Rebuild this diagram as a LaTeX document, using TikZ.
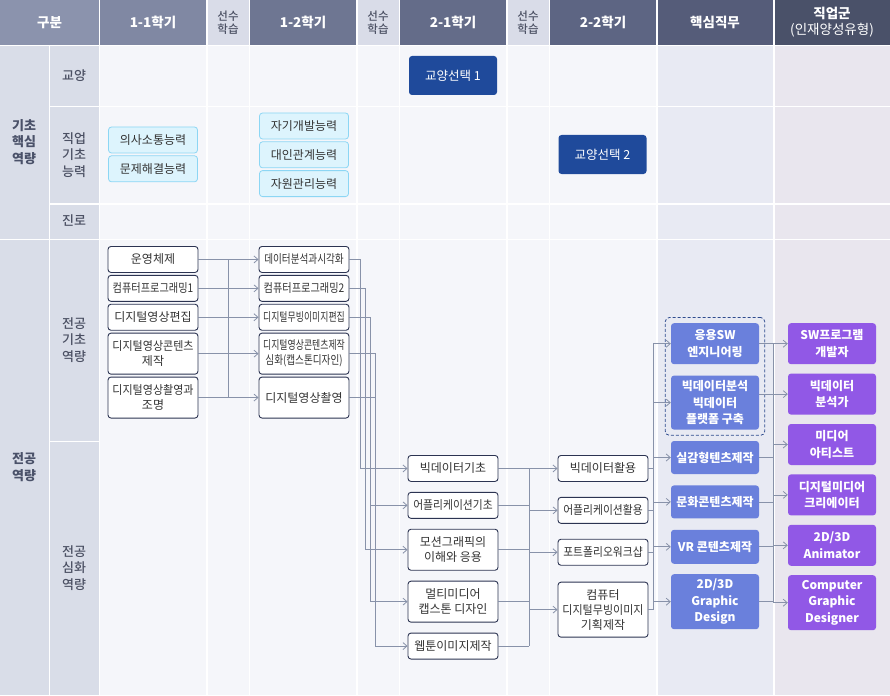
\documentclass[tikz,border=0pt]{standalone}
\usepackage{fontspec}
\setmainfont{Noto Sans CJK KR}
\IfFontExistsTF{Noto Sans CJK KR Medium}
    {\newfontfamily\medfont{Noto Sans CJK KR Medium}}
    {\newcommand\medfont{\relax}}
\usepackage{graphicx}
\usetikzlibrary{positioning,arrows.meta,fit}

\definecolor{hdA}{HTML}{8B93AD}
\definecolor{hdB}{HTML}{8088A3}
\definecolor{hdC}{HTML}{6E7692}
\definecolor{hdD}{HTML}{646C89}
\definecolor{hdE}{HTML}{5D6583}
\definecolor{hdF}{HTML}{555C79}
\definecolor{hdG}{HTML}{4A5169}
\definecolor{prehd}{HTML}{D9DCE8}
\definecolor{sidec}{HTML}{D9DDE8}
\definecolor{cellc}{HTML}{F5F6FA}
\definecolor{jobc}{HTML}{E8EAF3}
\definecolor{carc}{HTML}{E9E6EE}
\definecolor{sidetext}{HTML}{4B5063}
\definecolor{boxline}{HTML}{2C3452}
\definecolor{boxtext}{HTML}{333333}
\definecolor{skillfill}{HTML}{DDF4FD}
\definecolor{skillline}{HTML}{8CD6F4}
\definecolor{electfill}{HTML}{1F4A9B}
\definecolor{jobfill}{HTML}{6A80DC}
\definecolor{careerfill}{HTML}{9158E6}
\definecolor{linkc}{HTML}{8892A9}
\definecolor{dashc}{HTML}{2F4C8E}

\newcommand\sq[2]{\scalebox{#1}[1]{#2}}

\begin{document}
\begin{tikzpicture}[x=1pt,y=-1pt,
    font=\fontsize{12}{15}\selectfont,
    course node/.style={draw=boxline,fill=white,rounded corners=3pt,line width=0.9pt,
        minimum width=90pt,minimum height=26pt,inner sep=1pt,align=center,text=boxtext},
    skill node/.style={draw=skillline,fill=skillfill,rounded corners=3pt,line width=0.8pt,
        minimum width=89pt,minimum height=26pt,inner sep=1pt,text=boxtext},
    elect node/.style={fill=electfill,rounded corners=3pt,minimum width=88pt,
        minimum height=39pt,text=white,font=\fontsize{12.5}{15}\selectfont},
    job node/.style={fill=jobfill,rounded corners=3pt,minimum width=88pt,inner sep=1pt,
        align=center,text=white,font=\fontsize{12}{16.5}\selectfont\bfseries},
    career node/.style={job node,fill=careerfill},
    conn/.style={draw=linkc,line width=0.8pt},
    arrowed/.style={-{Straight Barb[length=4pt,width=7pt]}},
    hdtext/.style={text=white,align=center,font=\fontsize{13.5}{16}\selectfont\bfseries},
    pretext/.style={text=sidetext,align=center,font=\fontsize{11.5}{13}\selectfont\medfont},
    sidelabel/.style={text=sidetext,align=center,font=\fontsize{13}{16.7}\selectfont\medfont},
    mainlabel/.style={sidelabel,text=hdG,font=\fontsize{13}{16.7}\selectfont\bfseries}]

    \useasboundingbox (0,0) rectangle (890,695);
    \fill[white] (0,0) rectangle (890,695);

    % header
    \foreach \xa/\xb/\c in {0/98.5/hdA,100/206/hdB,207.5/248.8/prehd,250.3/356/hdC,
        357.5/398.8/prehd,400.3/506/hdD,507.5/548.8/prehd,550.3/656/hdE,
        657.5/773/hdF,774.5/890/hdG}
        \fill[\c] (\xa,0) rectangle (\xb,45);

    % body cells
    \foreach \xa/\xb/\c in {100/206/cellc,207.5/248.8/cellc,250.3/356/cellc,
        357.5/398.8/cellc,400.3/506/cellc,507.5/548.8/cellc,550.3/656/cellc,
        657.5/773/jobc,774.5/890/carc}
        \foreach \ya/\yb in {46.5/106,107.5/203,204.5/238.5,240/695}
            \fill[\c] (\xa,\ya) rectangle (\xb,\yb);
    \fill[sidec] (0,46.5) rectangle (48.5,238.5);
    \fill[sidec] (0,240) rectangle (48.5,695);
    \foreach \ya/\yb in {46.5/106,107.5/203,204.5/238.5,240/440.5,442/695}
        \fill[sidec] (50,\ya) rectangle (98.5,\yb);

    % header labels
    \node[hdtext] (h0) at (49.5,22.5) {구분};
    \node[hdtext] (h1) at (153,22.5) {1-1학기};
    \node[pretext] (p1) at (228,22.5) {선수\\학습};
    \node[hdtext] (h2) at (303,22.5) {1-2학기};
    \node[pretext] (p2) at (378,22.5) {선수\\학습};
    \node[hdtext] (h3) at (453,22.5) {2-1학기};
    \node[pretext] (p3) at (528,22.5) {선수\\학습};
    \node[hdtext] (h4) at (603,22.5) {2-2학기};
    \node[hdtext] (h5) at (715,22.5) {핵심직무};
    \node[hdtext] (h6) at (832,22.5) {직업군\\{\mdseries (인재양성유형)}};

    % side labels
    \node[mainlabel] (k1) at (24,142) {기초\\핵심\\역량};
    \node[sidelabel] (k2) at (74,76) {교양};
    \node[sidelabel] (k3) at (74,155) {직업\\기초\\능력};
    \node[sidelabel] (k4) at (74,221) {진로};
    \node[mainlabel] (k5) at (24,467) {전공\\역량};
    \node[sidelabel] (k6) at (74,340) {전공\\기초\\역량};
    \node[sidelabel] (k7) at (74,568) {전공\\심화\\역량};

    % basic skills and electives
    \node[skill node] (1) at (153,140) {의사소통능력};
    \node[skill node] (2) [below=2pt of 1] {문제해결능력};
    \node[skill node] (3) at (304,126) {자기개발능력};
    \node[skill node] (4) [below=2pt of 3] {대인관계능력};
    \node[skill node] (5) [below=2pt of 4] {자원관리능력};
    \node[elect node] (6) at (453,75.5) {교양선택 1};
    \node[elect node] (7) at (602.5,154.5) {교양선택 2};

    % 1-1
    \node[course node,anchor=north] (11) at (153,246) {운영체제};
    \node[course node] (12) [below=2pt of 11] {\sq{0.85}{컴퓨터프로그래밍1}};
    \node[course node] (13) [below=2pt of 12] {디지털영상편집};
    \node[course node,minimum height=41pt] (14) [below=2pt of 13] {\sq{0.92}{디지털영상콘텐츠}\\제작};
    \node[course node,minimum height=41pt] (15) [below=2pt of 14] {\sq{0.92}{디지털영상촬영과}\\조명};

    % 1-2
    \node[course node,anchor=north] (21) at (304,246) {\sq{0.8}{데이터분석과시각화}};
    \node[course node] (22) [below=2pt of 21] {\sq{0.85}{컴퓨터프로그래밍2}};
    \node[course node] (23) [below=2pt of 22] {\sq{0.74}{디지털무빙이미지편집}};
    \node[course node,minimum height=41pt] (24) [below=2pt of 23] {\sq{0.74}{디지털영상콘텐츠제작}\\\sq{0.8}{심화(캡스톤디자인)}};
    \node[course node,minimum height=41pt] (25) [below=2pt of 24] {디지털영상촬영};

    % 2-1
    \node[course node,anchor=north] (31) at (453,455) {빅데이터기초};
    \node[course node] (32) [below=10pt of 31] {\sq{0.9}{어플리케이션기초}};
    \node[course node,minimum height=41pt] (33) [below=10pt of 32] {모션그래픽의\\이해와 응용};
    \node[course node,minimum height=41pt] (34) [below=10pt of 33] {멀티미디어\\캡스톤 디자인};
    \node[course node] (35) [below=10pt of 34] {웹툰이미지제작};

    % 2-2
    \node[course node,anchor=north] (41) at (603,455) {빅데이터활용};
    \node[course node] (42) [below=15pt of 41] {\sq{0.9}{어플리케이션활용}};
    \node[course node] (43) [below=15pt of 42] {\sq{0.9}{포트폴리오워크샵}};
    \node[course node,minimum height=55pt] (44) [below=16pt of 43] {컴퓨터\\\sq{0.92}{디지털무빙이미지}\\기획제작};

    % core jobs
    \node[job node,anchor=north,minimum height=41pt] (51) at (715,323) {응용SW\\엔지니어링};
    \node[job node,minimum height=54pt] (52) [below=11pt of 51] {빅데이터분석\\빅데이터\\플랫폼 구축};
    \node[job node,minimum height=33pt] (53) [below=11pt of 52] {실감형텐츠제작};
    \node[job node,minimum height=33pt] (54) [below=11pt of 53] {문화콘텐츠제작};
    \node[job node,minimum height=34pt] (55) [below=11pt of 54] {VR 콘텐츠제작};
    \node[job node,minimum height=55pt] (56) [below=10pt of 55] {2D/3D\\Graphic\\Design};
    \node[draw=dashc,dash pattern=on 3pt off 2pt,line width=0.8pt,rounded corners=4pt,
        fit=(51)(52),inner sep=5.5pt] (g) {};

    % careers
    \node[career node,anchor=north,minimum height=41pt] (61) at (832,323) {SW프로그램\\개발자};
    \node[career node,minimum height=41pt] (62) [below=9pt of 61] {빅데이터\\분석가};
    \node[career node,minimum height=41pt] (63) [below=9pt of 62] {미디어\\아티스트};
    \node[career node,minimum height=41pt] (64) [below=9pt of 63] {디지털미디어\\크리에이터};
    \node[career node,minimum height=41pt] (65) [below=9pt of 64] {2D/3D\\Animator};
    \node[career node,minimum height=55pt] (66) [below=9pt of 65] {Computer\\Graphic\\Designer};

    \coordinate (b1) at (228,0);
    \coordinate (v1) at (360.5,0);
    \coordinate (v2) at (365.5,0);
    \coordinate (v3) at (370.5,0);
    \coordinate (v4) at (375.5,0);
    \coordinate (b2) at (529,0);
    \coordinate (b3) at (653,0);
    \coordinate (b4) at (773,0);

    % 1-1 -> 1-2
    \foreach \i in {1,...,5}
        \draw[conn,arrowed] (1\i) -- (2\i);
    \draw[conn] (b1 |- 11) -- (b1 |- 15);

    % 1-2 -> 2-1
    \draw[conn,arrowed] (21.east) -| (v1 |- 31) -- (31.west);
    \draw[conn,arrowed] (22.east) -| (v2 |- 33) -- (33.west);
    \draw[conn,arrowed] (23.east) -| (v3 |- 32) -- (32.west);
    \draw[conn,arrowed] (v3 |- 32) |- (34.west);
    \draw[conn,arrowed] (24.east) -| (v4 |- 35) -- (35.west);
    \draw[conn] (25.east) -- (v4 |- 25);

    % 2-1 -> 2-2
    \foreach \i in {1,...,5}
        \draw[conn] (3\i.east) -- (b2 |- 3\i);
    \draw[conn] (b2 |- 31) -- (b2 |- 35);
    \foreach \i in {1,...,4}
        \draw[conn,arrowed] (b2 |- 4\i) -- (4\i.west);

    % 2-2 -> core jobs
    \foreach \i in {1,...,4}
        \draw[conn] (4\i.east) -- (b3 |- 4\i);
    \draw[conn] (b3 |- 51) -- (b3 |- 44);
    \foreach \i in {1,...,6}
        \draw[conn,arrowed] (b3 |- 5\i) -- (5\i.west);

    % core jobs -> careers
    \draw[conn,arrowed] (51) -- (61);
    \draw[conn,arrowed] (52.east |- 62) -- (62.west);
    \foreach \i in {3,...,6}
        \draw[conn] (5\i.east) -- (b4 |- 5\i);
    \draw[conn] (b4 |- 61) -- (b4 |- 66);
    \foreach \i in {3,...,6}
        \draw[conn,arrowed] (b4 |- 6\i) -- (6\i.west);
\end{tikzpicture}
\end{document}
